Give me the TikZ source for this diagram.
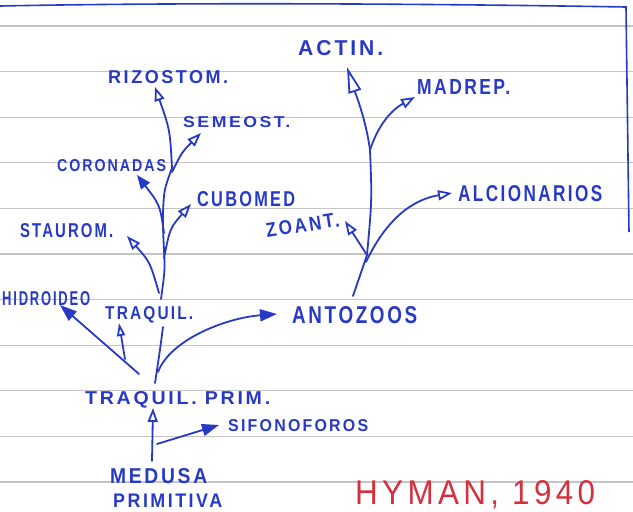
\documentclass[tikz,border=0pt]{standalone}
\usepackage{fontspec}
\setmainfont{Liberation Sans}
\usepackage{graphicx}
\usetikzlibrary{arrows.meta}
\definecolor{ink}{RGB}{40,58,196}
\definecolor{redink}{RGB}{214,48,62}
\definecolor{ruleline}{RGB}{196,196,196}
\newcommand{\inklbl}[3]{\resizebox{#1pt}{#2pt}{\bfseries\addfontfeature{LetterSpace=14}#3}}
\begin{document}
\begin{tikzpicture}[x=1pt,y=-1pt,
  lbl/.style={inner sep=0pt, anchor=base west, text=ink},
  stroke/.style={draw=ink, line width=1.8pt, line cap=round, line join=round},
  ao/.style={stroke, -{Triangle[open,length=14pt,width=10pt]}},
  af/.style={stroke, -{Triangle[length=17pt,width=12pt]}},
  afs/.style={stroke, -{Triangle[length=14pt,width=11pt]}},
  abig/.style={stroke, -{Triangle[open,length=26pt,width=13pt]}}]
\useasboundingbox (0,0) rectangle (633,512);
\fill[white] (0,0) rectangle (633,512);
% ruled paper
\foreach \k in {0,...,10}
  \draw[ruleline, line width=1.3pt] (0,{26+45.6*\k}) -- (633,{26+45.6*\k});
% blue border
\draw[ink, line width=1.6pt] (0,6) .. controls (200,2) and (450,4) .. (626,7) -- (629,232);

% labels
\node[lbl] (rizo) at (108,83.5) {\inklbl{120}{13}{RIZOSTOM.}};
\node[lbl] (semeost) at (183,127.5) {\inklbl{107}{11}{SEMEOST.}};
\node[lbl] (coron) at (57,171) {\inklbl{109}{12}{CORONADAS}};
\node[lbl] (cubomed) at (197,206.5) {\inklbl{98}{15}{CUBOMED}};
\node[lbl] (staurom) at (20,237) {\inklbl{93}{14}{STAUROM.}};
\node[lbl, rotate=9] (zoant) at (267,238) {\inklbl{74}{14}{ZOANT.}};
\node[lbl] (actin) at (298,55.5) {\inklbl{85}{15}{ACTIN.}};
\node[lbl] (madrep) at (417,94.5) {\inklbl{93}{15}{MADREP.}};
\node[lbl] (alcion) at (458,201) {\inklbl{144}{16}{ALCIONARIOS}};
\node[lbl] (hidro) at (2,305) {\inklbl{88}{14}{HIDROIDEO}};
\node[lbl] (traq) at (105,319.5) {\inklbl{88}{13}{TRAQUIL.}};
\node[lbl] (antoz) at (292,323.5) {\inklbl{125}{17}{ANTOZOOS}};
\node[lbl] (traqprim) at (85,404.5) {\inklbl{185}{13}{TRAQUIL. PRIM.}};
\node[lbl] (sifon) at (228,431) {\inklbl{140}{12}{SIFONOFOROS}};
\node[lbl] (medusa) at (110,483) {\inklbl{97}{15}{MEDUSA}};
\node[lbl] (primit) at (113,507) {\inklbl{109}{13.5}{PRIMITIVA}};
\node[lbl, text=redink] (hyman) at (355,504) {\resizebox{240pt}{24pt}{\addfontfeature{LetterSpace=14}HYMAN, 1940}};

% coordinates (branch points and arrow tips)
\coordinate (m0) at (152,461); \coordinate (m1) at (153,408);
\coordinate (s0) at (157,444); \coordinate (s1) at (219,425);
\coordinate (t0) at (155,383); \coordinate (t1) at (163,327);
\coordinate (h0) at (139,374); \coordinate (h1) at (60,305);
\coordinate (sa0) at (125,359); \coordinate (sa1) at (119,323);
\coordinate (a0) at (158,372); \coordinate (a1) at (277,314);
\coordinate (u0) at (161,299); \coordinate (u1) at (164,250);
\coordinate (u2) at (163,213); \coordinate (u3) at (172,168);
\coordinate (rz) at (155,87);
\coordinate (st0) at (159,293); \coordinate (st) at (127,236);
\coordinate (cb0) at (164,258); \coordinate (cb) at (191,204);
\coordinate (cr0) at (164,233); \coordinate (cr) at (137,175);
\coordinate (se0) at (172,172); \coordinate (se) at (201,133);
\coordinate (r0) at (353,296); \coordinate (r1) at (367,255);
\coordinate (r2) at (370,150);
\coordinate (za) at (345,221);
\coordinate (al0) at (366,262); \coordinate (al) at (452,193);
\coordinate (ac) at (347,67);
\coordinate (md) at (415,97);

% left tree
\draw[ao] (m0) -- (m1);
\draw[af] (s0) -- (s1);
\draw[af] (h0) -- (h1);
\draw[ao, -{Triangle[open,length=13pt,width=8pt]}] (sa0) -- (sa1);
\draw[stroke] (t0) .. controls (160,350) .. (t1);
\draw[af] (a0) .. controls (170,340) and (225,318) .. (a1);
\draw[ao] (u0) .. controls (165,270) .. (u1) .. controls (163,230) .. (u2)
  .. controls (164,190) .. (u3) .. controls (170,130) .. (rz);
\draw[ao] (st0) .. controls (150,262) .. (st);
\draw[ao] (cb0) .. controls (170,228) .. (cb);
\draw[afs] (cr0) .. controls (160,205) .. (cr);
\draw[ao] (se0) .. controls (182,152) .. (se);

% right tree
\draw[stroke] (r0) -- (r1);
\draw[ao] (r1) -- (za);
\draw[ao] (al0) .. controls (385,222) and (410,200) .. (al);
\draw[abig] (r1) .. controls (372,200) .. (r2) .. controls (366,120) and (356,95) .. (ac);
\draw[ao] (r2) .. controls (380,120) and (395,108) .. (md);
\end{tikzpicture}
\end{document}
